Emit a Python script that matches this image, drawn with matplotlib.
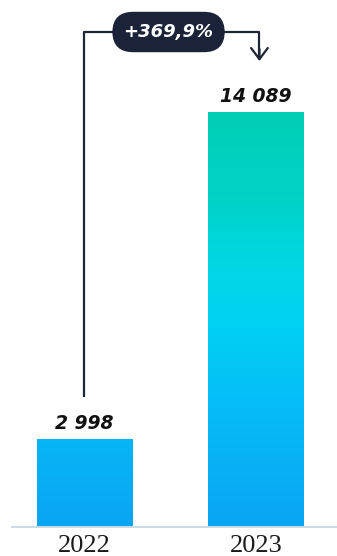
import numpy as np
import matplotlib.pyplot as plt
from matplotlib.colors import LinearSegmentedColormap

years = ["2022", "2023"]
values = [2998, 14089]
growth_label = "+369,9%"
value_labels = ["2 998", "14 089"]

# vertical gradient shared by both bars (bottom -> top)
bar_cmap = LinearSegmentedColormap.from_list(
    "bars", [(0.0, "#0aa5f2"), (0.3, "#05bdf7"), (0.5, "#00d2f2"),
             (0.62, "#00d8e6"), (0.8, "#00d2c6"), (1.0, "#00cfb5")])

fig = plt.figure(figsize=(3.37, 5.56), dpi=100)
ax = fig.add_axes([0, 29 / 556, 1, 527 / 556])

x = np.arange(len(years))
width = 0.554
ymax = values[1] * 527 / 415
ax.set_xlim(-0.4927, 1.4723)
ax.set_ylim(0, ymax)

bars = ax.bar(x, values, width=width, color="none", edgecolor="none", zorder=2)
grad = np.linspace(0, 1, 256).reshape(-1, 1)
for b in bars:
    im = ax.imshow(grad, cmap=bar_cmap, origin="lower", aspect="auto",
                   extent=(x[0] - width, x[1] + width, 0, max(values)), zorder=2)
    im.set_clip_path(b)

# baseline
ax.plot([-0.42, 1.48], [0, 0], color="#c9dde6", lw=1.4, zorder=3, clip_on=False)

# value labels
for xi, v, lab in zip(x, values, value_labels):
    ax.annotate(lab, (xi, v), xytext=(0, 11), textcoords="offset points",
                ha="center", va="center", fontsize=13.5, fontweight="bold",
                fontstyle="italic", color="#111111")

# year labels
for xi, yr in zip(x, years):
    ax.annotate(yr, (xi, 0), xytext=(0, -14), textcoords="offset points",
                ha="center", va="center", fontsize=19, family="Liberation Serif",
                color="#1a1a1a", annotation_clip=False)

# growth bracket from 2022 to 2023
top = ymax * 495 / 527
left_bottom = ymax * 130 / 527
arrow_tip = ymax * 466 / 527
x_right = 1.02
ax.plot([0, 0, x_right, x_right], [left_bottom, top, top, arrow_tip + ymax * 2 / 527],
        color="#1e2533", lw=1.6, solid_capstyle="butt", zorder=4)
ax.annotate("", xy=(x_right, arrow_tip), xytext=(x_right, arrow_tip + ymax * 12 / 527),
            arrowprops=dict(arrowstyle="->,head_length=0.8,head_width=0.6",
                            color="#1e2533", lw=1.6, shrinkA=0, shrinkB=0))

ax.text(0.49, top, growth_label, ha="center", va="center", fontsize=13,
        fontweight="bold", fontstyle="italic", color="white", zorder=5,
        bbox=dict(boxstyle="round,pad=0.62,rounding_size=1.15",
                  fc="#1b2339", ec="none"))

ax.axis("off")
fig.savefig("out.png", dpi=100)
